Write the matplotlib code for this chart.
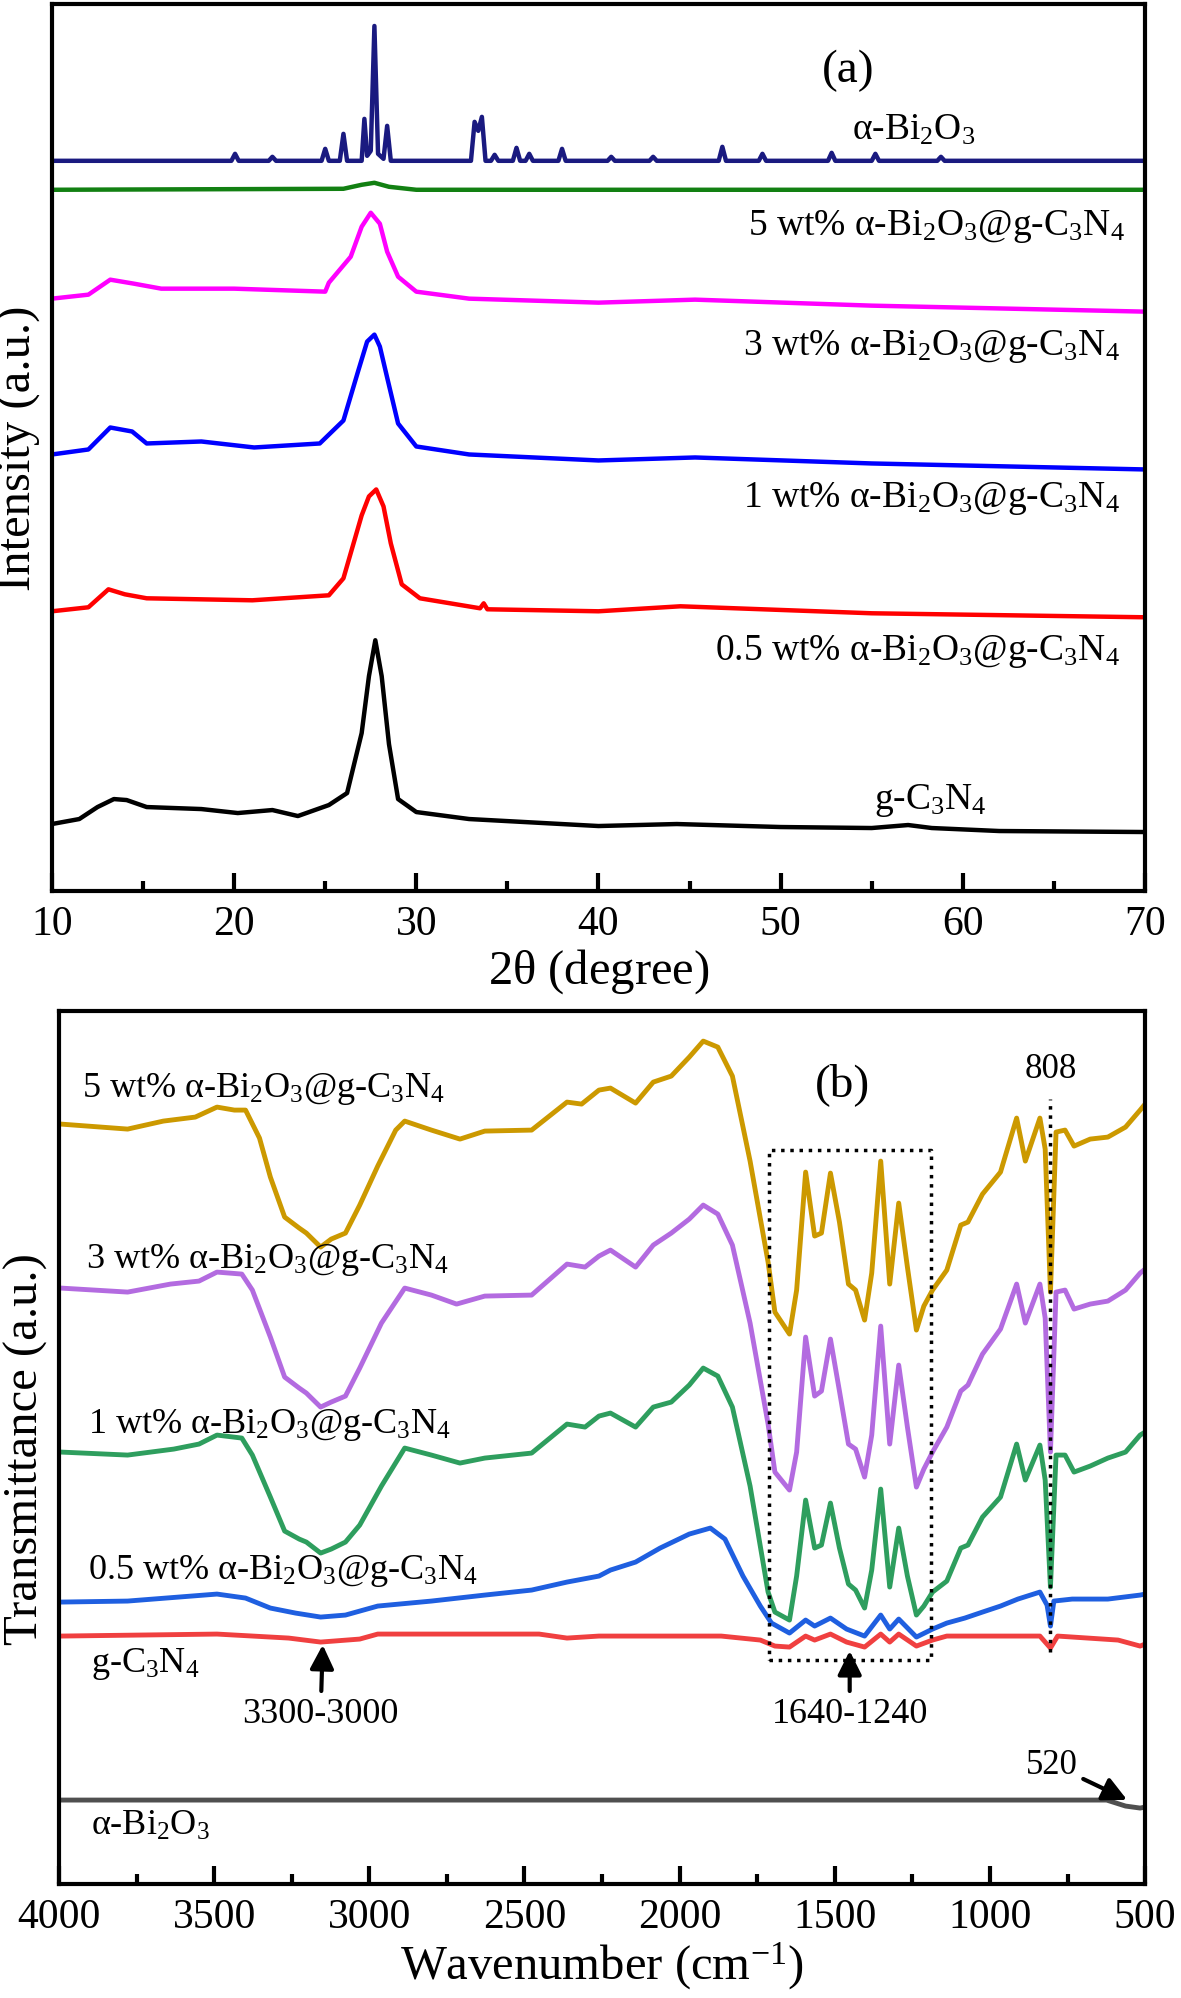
import numpy as np
import matplotlib
matplotlib.use('Agg')
import matplotlib.pyplot as plt

plt.rcParams['font.family'] = ['Liberation Serif', 'DejaVu Serif']
plt.rcParams['mathtext.fontset'] = 'custom'
plt.rcParams['mathtext.rm'] = 'Liberation Serif'
plt.rcParams['mathtext.it'] = 'Liberation Serif:italic'
plt.rcParams['mathtext.default'] = 'regular'

# ---------------- (a) XRD, 2theta (degree) vs stacked intensity ----------------
tt_bi = [10, 19.85, 20.05, 20.25, 21.9, 22.1, 22.3, 24.8, 25.0, 25.2, 25.8, 26.0, 26.2,
         27.0, 27.15, 27.3, 27.5, 27.7, 27.9, 28.2, 28.4, 28.6, 29.0,
         33.0, 33.2, 33.4, 33.6, 33.8, 34.1, 34.3, 34.5, 35.3, 35.5, 35.7, 36.0, 36.2, 36.4,
         37.8, 38.0, 38.2, 40.5, 40.7, 40.9, 42.8, 43.0, 43.2, 46.6, 46.8, 47.0,
         48.8, 49.0, 49.2, 52.6, 52.8, 53.0, 55.0, 55.2, 55.4, 58.6, 58.8, 59.0, 70]
I_bi = [731, 731, 738, 731, 731, 735, 731, 731, 743, 731, 731, 758, 731,
        731, 773, 736, 741, 866, 738, 733, 766, 731, 731,
        731, 770, 761, 775, 731, 731, 737, 731, 731, 744, 731, 731, 738, 731,
        731, 743, 731, 731, 735, 731, 731, 735, 731, 731, 745, 731,
        731, 738, 731, 731, 739, 731, 731, 738, 731, 731, 735, 731, 731]

tt_5 = [10, 26.0, 27.0, 27.7, 28.5, 30, 70]
I_5 = [702, 703, 707, 709, 705, 702, 702]

tt_3 = [10, 12.0, 13.2, 14.5, 16.0, 20, 25, 25.2, 26.4, 27.0, 27.5, 28.0, 28.4, 29.0, 30.0,
        32.9, 40, 45.3, 55, 70]
I_3 = [593, 597, 612, 608, 603, 603, 600, 609, 635, 665, 679, 668, 640, 615, 600,
       593, 589, 592, 586, 580]

tt_1 = [10, 12.0, 13.2, 14.4, 15.2, 18.2, 21.1, 24.7, 26.0, 26.8, 27.3, 27.7, 28.0, 28.4,
        29.0, 30.0, 32.9, 40, 45.3, 55, 70]
I_1 = [437, 442, 464, 460, 448, 450, 444, 448, 471, 520, 550, 557, 545, 514,
       468, 445, 437, 431, 434, 428, 422]

tt_05 = [10, 12.0, 13.1, 14.0, 15.2, 21.0, 25.2, 26.0, 27.0, 27.4, 27.8, 28.2, 28.6, 29.2,
         30.2, 33.5, 33.7, 33.9, 40, 44.5, 55, 70]
I_05 = [280, 284, 302, 297, 293, 291, 296, 313, 376, 395, 402, 385, 348, 307,
        293, 283, 288, 282, 280, 285, 278, 274]

tt_g = [10, 11.5, 12.5, 13.4, 14.1, 15.2, 18.2, 20.2, 22.1, 23.5, 25.2, 26.2, 27.0, 27.4,
        27.75, 28.1, 28.5, 29.0, 30.0, 32.9, 40.0, 44.3, 50, 55, 57.0, 58.3, 62, 70]
I_g = [67, 72, 84, 92, 91, 84, 82, 78, 81, 75, 86, 98, 158, 215,
       251, 215, 147, 92, 79, 72, 65, 67, 64, 63, 66, 63, 60, 59]

# ---------------- (b) FTIR, wavenumber vs stacked transmittance ----------------
wn_5 = [3994, 3779, 3664, 3561, 3491, 3435, 3399, 3354, 3319, 3273, 3226, 3203, 3157, 3123,
        3077, 3031, 2973, 2915, 2886, 2800, 2708, 2628, 2477, 2363, 2316, 2260, 2223, 2142,
        2085, 2027, 1969, 1924, 1877, 1830, 1773, 1715, 1693, 1646, 1623, 1594, 1565, 1543,
        1514, 1485, 1456, 1433, 1404, 1381, 1352, 1323, 1294, 1266, 1237, 1213, 1185, 1139,
        1094, 1071, 1024, 966, 914, 886, 839, 822, 805, 787, 758, 729, 677, 620, 563, 516, 500]
T_5 = [760, 755, 763, 767, 777, 774, 774, 746, 707, 667, 656, 651, 637, 645,
       651, 679, 718, 754, 763, 754, 745, 753, 754, 782, 780, 794, 796, 781,
       802, 808, 827, 843, 837, 808, 723, 622, 572, 550, 594, 712, 648, 651,
       711, 662, 600, 594, 564, 611, 723, 600, 681, 617, 554, 578, 594, 614,
       659, 662, 690, 712, 766, 723, 766, 735, 592, 752, 754, 738, 745, 747, 757, 774, 780]

wn_3 = [3994, 3779, 3641, 3549, 3491, 3411, 3377, 3319, 3273, 3226, 3203, 3157, 3123, 3077,
        3031, 2961, 2886, 2800, 2719, 2628, 2477, 2363, 2305, 2260, 2223, 2142, 2085, 2027,
        1969, 1924, 1877, 1830, 1773, 1715, 1693, 1646, 1623, 1594, 1565, 1543, 1514, 1485,
        1456, 1433, 1404, 1381, 1352, 1323, 1294, 1266, 1237, 1213, 1185, 1139, 1094, 1071,
        1024, 966, 914, 886, 839, 822, 805, 787, 758, 729, 677, 620, 563, 516, 500]
T_3 = [596, 592, 600, 603, 612, 610, 594, 547, 507, 496, 491, 477, 482, 488,
       516, 561, 596, 589, 580, 588, 589, 620, 617, 628, 634, 617, 639, 651,
       665, 679, 670, 639, 561, 460, 412, 394, 432, 547, 488, 493, 545, 493,
       440, 435, 407, 449, 558, 440, 519, 457, 397, 415, 432, 457, 493, 499,
       530, 555, 600, 561, 600, 566, 432, 592, 594, 575, 580, 583, 594, 611, 615]

wn_1 = [3994, 3779, 3630, 3549, 3491, 3411, 3377, 3319, 3273, 3226, 3203, 3157, 3123, 3077,
        3031, 2961, 2886, 2800, 2708, 2628, 2477, 2363, 2305, 2260, 2223, 2142, 2085, 2027,
        1969, 1924, 1877, 1830, 1773, 1715, 1693, 1646, 1623, 1594, 1565, 1543, 1514, 1485,
        1456, 1433, 1404, 1381, 1352, 1323, 1294, 1266, 1237, 1213, 1185, 1139, 1094, 1071,
        1024, 966, 914, 886, 839, 822, 805, 787, 758, 729, 677, 620, 563, 516, 500]
T_1 = [432, 429, 435, 440, 449, 446, 429, 387, 353, 345, 342, 331, 335, 342,
       359, 398, 436, 429, 421, 426, 431, 460, 457, 468, 471, 457, 477, 482,
       499, 516, 508, 477, 398, 292, 272, 264, 308, 384, 336, 339, 381, 336,
       300, 294, 276, 314, 395, 297, 356, 308, 269, 278, 292, 303, 336, 339,
       367, 387, 440, 404, 439, 404, 297, 429, 429, 412, 418, 426, 432, 449, 452]

wn_05 = [3994, 3779, 3491, 3399, 3319, 3238, 3157, 3077, 2973, 2800, 2628, 2477, 2363, 2260,
         2223, 2142, 2063, 1969, 1901, 1854, 1796, 1740, 1704, 1646, 1594, 1565, 1514, 1462,
         1404, 1352, 1323, 1294, 1237, 1185, 1139, 1081, 1024, 966, 910, 839, 816, 805, 794,
         735, 620, 516, 500]
T_05 = [282, 283, 290, 286, 276, 271, 267, 269, 278, 283, 289, 294, 302, 308,
        314, 322, 336, 350, 356, 345, 308, 278, 261, 251, 264, 258, 266, 255,
        248, 269, 255, 265, 247, 255, 261, 266, 272, 278, 285, 292, 279, 258, 283,
        285, 285, 289, 290]

wn_g = [3994, 3491, 3260, 3157, 3031, 2973, 2453, 2363, 2260, 1866, 1740, 1693, 1646, 1594,
        1565, 1514, 1462, 1404, 1352, 1323, 1294, 1237, 1185, 1139, 839, 805, 782, 587, 516, 500]
T_g = [248, 250, 246, 242, 245, 250, 250, 246, 248, 248, 244, 238, 237, 248,
       244, 250, 242, 237, 250, 242, 250, 238, 244, 248, 248, 236, 248, 244, 238, 240]

wn_bi = [4000, 2000, 624, 563, 516, 500]
T_bi = [84, 84, 84, 78, 76, 77]

# annotation anchors (wavenumber, stacked value)
box_wn = (1712, 1189)
box_T = (224, 734)
line808 = (808, 232, 785)

fig = plt.figure(figsize=(11.81, 19.99), dpi=100)

# ---------------- panel (a) ----------------
ax = fig.add_axes([0.0440, 0.5538, 0.9255, 0.4437])
ax.plot(tt_bi, I_bi, color='#1a1a80', lw=3.2)
ax.plot(tt_5, I_5, color='#128012', lw=3.2)
ax.plot(tt_3, I_3, color='#ff00ff', lw=3.2)
ax.plot(tt_1, I_1, color='#0000ff', lw=3.2)
ax.plot(tt_05, I_05, color='#ff0000', lw=3.2)
ax.plot(tt_g, I_g, color='black', lw=3.2)
ax.set_xlim(10, 70)
ax.set_ylim(0, 888)
ax.set_xticks(np.arange(10, 71, 10))
ax.set_xticks(np.arange(15, 70, 10), minor=True)
ax.set_yticks([])
ax.tick_params(axis='x', which='major', direction='in', length=13, width=3, labelsize=30, pad=10)
ax.tick_params(axis='x', which='minor', direction='in', length=7, width=3)
for s in ax.spines.values():
    s.set_linewidth(3)
ax.set_xlabel(r'2$\theta$ (degree)', fontsize=35, labelpad=2)
ax.set_ylabel('Intensity (a.u.)', fontsize=35, labelpad=8)

lab_a = 27
ax.text(53.7, 822, '(a)', fontsize=34, ha='center', va='center')
ax.text(57.3, 762, r'α-Bi$_2$O$_3$', fontsize=lab_a, ha='center', va='center')
ax.text(68.9, 666, r'5 wt% α-Bi$_2$O$_3$@g-C$_3$N$_4$', fontsize=lab_a, ha='right', va='center')
ax.text(68.6, 546, r'3 wt% α-Bi$_2$O$_3$@g-C$_3$N$_4$', fontsize=lab_a, ha='right', va='center')
ax.text(68.6, 394, r'1 wt% α-Bi$_2$O$_3$@g-C$_3$N$_4$', fontsize=lab_a, ha='right', va='center')
ax.text(68.6, 241, r'0.5 wt% α-Bi$_2$O$_3$@g-C$_3$N$_4$', fontsize=lab_a, ha='right', va='center')
ax.text(58.2, 92, r'g-C$_3$N$_4$', fontsize=lab_a, ha='center', va='center')

# ---------------- panel (b) ----------------
bx = fig.add_axes([0.0500, 0.0570, 0.9196, 0.4367])
bx.plot(wn_5, T_5, color='#cc9900', lw=3.5)
bx.plot(wn_3, T_3, color='#b36be0', lw=3.5)
bx.plot(wn_1, T_1, color='#2e9e5e', lw=3.5)
bx.plot(wn_05, T_05, color='#1f5fe0', lw=3.5)
bx.plot(wn_g, T_g, color='#f04040', lw=3.5)
bx.plot(wn_bi, T_bi, color='#505050', lw=3.5)
bx.set_xlim(4000, 500)
bx.set_ylim(0, 873)
bx.set_xticks(np.arange(4000, 499, -500))
bx.set_xticks(np.arange(3750, 500, -500), minor=True)
bx.set_yticks([])
bx.tick_params(axis='x', which='major', direction='in', length=13, width=3, labelsize=30, pad=10)
bx.tick_params(axis='x', which='minor', direction='in', length=7, width=3)
for s in bx.spines.values():
    s.set_linewidth(3)
bx.set_xlabel(r'Wavenumber (cm$^{-1}$)', fontsize=35, labelpad=2)
bx.set_ylabel('Transmittance (a.u.)', fontsize=35, labelpad=8)

# dotted box and 808 marker
bx.plot([box_wn[0], box_wn[1], box_wn[1], box_wn[0], box_wn[0]],
        [box_T[0], box_T[0], box_T[1], box_T[1], box_T[0]], color='black', ls=':', lw=2.5)
bx.plot([line808[0], line808[0]], [line808[1], line808[2]], color='black', ls=':', lw=2.5)
bx.text(805, 816, '808', fontsize=25, ha='center', va='center')
bx.text(1475, 800, '(b)', fontsize=34, ha='center', va='center')

arr = dict(arrowstyle='-|>', color='black', lw=3, mutation_scale=36)
bx.annotate('3300-3000', xy=(3150, 242), xytext=(3157, 171), fontsize=26,
            ha='center', va='center', arrowprops=arr)
bx.annotate('1640-1240', xy=(1452, 236), xytext=(1452, 171), fontsize=26,
            ha='center', va='center', arrowprops=arr)
bx.annotate('520', xy=(550, 83), xytext=(800, 120), fontsize=25,
            ha='center', va='center', arrowprops=arr)

lab_b = 26
bx.text(3925, 796, r'5 wt% α-Bi$_2$O$_3$@g-C$_3$N$_4$', fontsize=lab_b, ha='left', va='center')
bx.text(3912, 625, r'3 wt% α-Bi$_2$O$_3$@g-C$_3$N$_4$', fontsize=lab_b, ha='left', va='center')
bx.text(3907, 460, r'1 wt% α-Bi$_2$O$_3$@g-C$_3$N$_4$', fontsize=lab_b, ha='left', va='center')
bx.text(3907, 314, r'0.5 wt% α-Bi$_2$O$_3$@g-C$_3$N$_4$', fontsize=lab_b, ha='left', va='center')
bx.text(3896, 221, r'g-C$_3$N$_4$', fontsize=lab_b, ha='left', va='center')
bx.text(3898, 59, r'α-Bi$_2$O$_3$', fontsize=lab_b, ha='left', va='center')

plt.savefig('out.png', dpi=100)
